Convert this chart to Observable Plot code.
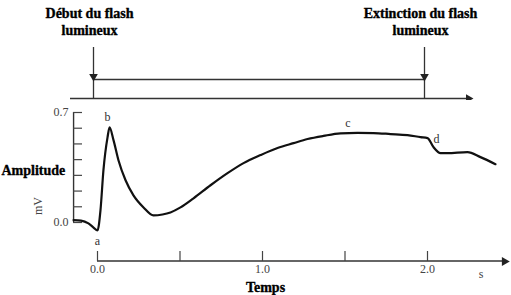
<!DOCTYPE html>
<html>
<head>
<meta charset="utf-8">
<script src="https://cdn.jsdelivr.net/npm/d3@7"></script>
<script src="https://cdn.jsdelivr.net/npm/@observablehq/plot@0.6"></script>
<style>
  html, body { margin: 0; padding: 0; background: #fff; }
  #chart { width: 511px; height: 295px; overflow: hidden; }
  #chart svg { display: block; }
</style>
</head>
<body>
<div id="chart"></div>
<script>
// ---- Data ----
// Flash stimulus (s)
const flashTimes = [0, 2];
const flashLabels = ["Début du flash\nlumineux", "Extinction du flash\nlumineux"];

// Electroretinogram trace: time (s) and amplitude (mV)
const timeS = [-0.145, -0.10, -0.055, -0.024, 0.0, 0.018, 0.036, 0.061, 0.073, 0.097,
  0.127, 0.170, 0.218, 0.279, 0.339, 0.394, 0.442, 0.503, 0.582, 0.685,
  0.788, 0.885, 0.988, 1.091, 1.188, 1.273, 1.370, 1.473, 1.576, 1.673,
  1.776, 1.879, 1.958, 2.0, 2.036, 2.079, 2.121, 2.242, 2.321, 2.412];
const amplitudeMV = [0.015, 0.012, -0.006, -0.032, -0.051, 0.077, 0.333, 0.543, 0.605, 0.524,
  0.396, 0.269, 0.173, 0.096, 0.045, 0.051, 0.064, 0.096, 0.154, 0.237,
  0.314, 0.378, 0.429, 0.474, 0.505, 0.531, 0.551, 0.567, 0.570, 0.569,
  0.563, 0.556, 0.543, 0.537, 0.48, 0.441, 0.441, 0.448, 0.416, 0.371];

// Named waves
const waveNames = ["a", "b", "c", "d"];
const waveTimes = [0.0, 0.073, 1.53, 2.0];
const waveAmps = [-0.051, 0.605, 0.569, 0.537];

// Ticks
const yTicks = [0, 0.1, 0.2, 0.3, 0.4, 0.5, 0.6, 0.7];
const yTickLabels = [0, 0.7];
const xTicks = [0, 0.5, 1, 1.5, 2];
const xTickLabels = [0, 1, 2];

// ---- Build ----
const trace = timeS.map((t, i) => ({t, v: amplitudeMV[i]}));
const waves = waveNames.map((n, i) => ({n, t: waveTimes[i], v: waveAmps[i]}));
const flashes = flashTimes.map((t, i) => ({t, label: flashLabels[i]}));

const ink = "#222";
const font = "'Liberation Serif', 'Times New Roman', serif";
const boldText = {fontSize: 14, fontWeight: "bold", fill: "#000", stroke: "#000", strokeWidth: 0.35};

const flashPlot = Plot.plot({
  width: 511, height: 100,
  marginTop: 47, marginBottom: 2, marginLeft: 70, marginRight: 41,
  style: {fontFamily: font, background: "white", color: ink},
  x: {domain: [0, 2], range: [93, 424], axis: null},
  y: {domain: [0, 1], range: [98, 79], axis: null},
  marks: [
    Plot.ruleY([0], {stroke: "#333", strokeWidth: 1.4}),
    Plot.dot([0], {frameAnchor: "bottom-right", symbol: "triangle", rotate: 90, r: 3.2, dx: -2, fill: ink, stroke: "none"}),
    Plot.ruleX(flashes, {x: "t", stroke: "#333", strokeWidth: 1.3}),
    Plot.ruleY([1], {x1: flashTimes[0], x2: flashTimes[1], stroke: "#333", strokeWidth: 1.4}),
    Plot.dot(flashes, {x: "t", y: 1, symbol: "triangle", rotate: 180, r: 3.2, dy: -3, fill: ink, stroke: "none"}),
    Plot.text(flashes, {x: "t", frameAnchor: "top", text: "label", lineAnchor: "top", dy: -41, dx: -4,
      lineHeight: 1.2, ...boldText})
  ]
});

const ergPlot = Plot.plot({
  width: 511, height: 195,
  marginTop: 12, marginBottom: 34, marginLeft: 73, marginRight: 4,
  style: {fontFamily: font, fontSize: "12px", background: "white", color: ink},
  x: {domain: [0, 2], range: [97, 427]},
  y: {domain: [0, 0.7], range: [122, 12]},
  marks: [
    // y axis
    Plot.ruleX([timeS[0]], {y1: 0, y2: 0.7, stroke: "#333", strokeWidth: 1.4}),
    Plot.axisY(yTicks, {tickSize: -9, tickFormat: () => "", label: null, stroke: "#444", strokeWidth: 1.2}),
    Plot.axisY(yTickLabels, {tickSize: 0, tickPadding: 5, tickFormat: d3.format(".1f"), label: null, fill: "#444", fontSize: 12}),
    // x axis line with arrow
    (index, scales, values, dims) => {
      const y0 = dims.height - dims.marginBottom;
      const g = d3.create("svg:g");
      g.append("line")
        .attr("x1", scales.x(0)).attr("x2", dims.width - dims.marginRight - 3)
        .attr("y1", y0).attr("y2", y0)
        .attr("stroke", "#333").attr("stroke-width", 1.5);
      return g.node();
    },
    Plot.dot([0], {frameAnchor: "bottom-right", symbol: "triangle", rotate: 90, r: 3.4, dx: -3, fill: ink, stroke: "none"}),
    Plot.axisX(xTicks, {tickSize: -10, tickFormat: () => "", label: null, stroke: "#444", strokeWidth: 1.2}),
    Plot.axisX(xTickLabels, {tickSize: 0, tickPadding: 3, tickFormat: d3.format(".1f"), label: null, fill: "#444", fontSize: 12}),
    // trace
    Plot.line(trace, {x: "t", y: "v", curve: "monotone-x", stroke: "#111", strokeWidth: 2.2}),
    // wave labels
    Plot.text(waves.filter(d => d.n === "a"), {x: "t", y: "v", text: "n", dy: 11, fill: "#333", fontSize: 12}),
    Plot.text(waves.filter(d => d.n === "b" || d.n === "c"), {x: "t", y: "v", text: "n", dy: -10, dx: -2, fill: "#333", fontSize: 12}),
    Plot.text(waves.filter(d => d.n === "d"), {x: "t", y: "v", text: "n", dx: 9, dy: 1, fill: "#333", fontSize: 12}),
    // axis titles
    Plot.text(["Amplitude"], {frameAnchor: "left", text: d => d, textAnchor: "start", dx: -72, dy: -16, ...boldText}),
    Plot.text(["mV"], {frameAnchor: "left", text: d => d, rotate: -90, dx: -35, dy: 28, fontSize: 12, fill: "#444"}),
    Plot.text(["Temps"], {frameAnchor: "bottom", text: d => d, dx: -25, dy: 30, ...boldText}),
    Plot.text(["s"], {frameAnchor: "bottom-right", text: d => d, dx: -24, dy: 16, fontSize: 12, fill: "#444"})
  ]
});

const chart = document.getElementById("chart");
chart.appendChild(flashPlot);
chart.appendChild(ergPlot);
</script>
</body>
</html>
